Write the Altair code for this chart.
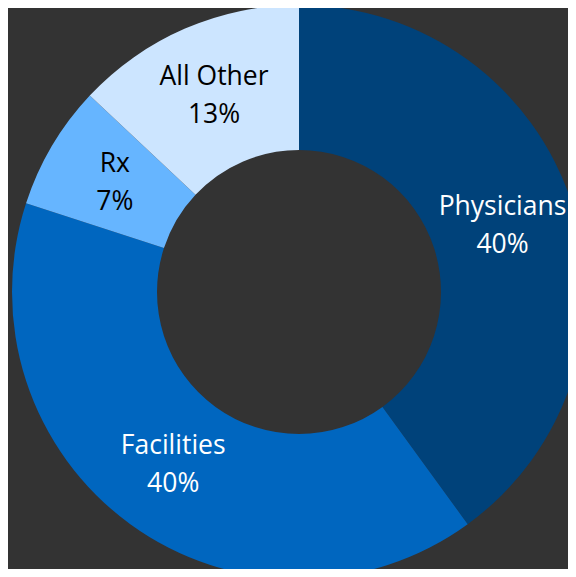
import altair as alt
import pandas as pd

categories = ["Physicians", "Facilities", "Rx", "All Other"]
values = [40, 40, 7, 13]
slice_colors = ["#00427A", "#0066BF", "#66B5FF", "#CCE5FF"]
text_colors = ["#FFFFFF", "#FFFFFF", "#000000", "#000000"]

df = pd.DataFrame({
    "cat": categories,
    "value": values,
    "order": list(range(len(categories))),
    "label": [f"{c}\n{v}%" for c, v in zip(categories, values)],
    "tcolor": text_colors,
})

base = alt.Chart(df).encode(
    theta=alt.Theta("value:Q", stack=True),
    order=alt.Order("order:Q", sort="ascending"),
    x=alt.value(291),
    y=alt.value(284),
)

arc = base.mark_arc(outerRadius=287, innerRadius=142).encode(
    color=alt.Color("cat:N", scale=alt.Scale(domain=categories, range=slice_colors), legend=None)
)

text = base.mark_text(
    radius=214, fontSize=26.5, lineHeight=38, font="Open Sans", lineBreak="\n",
    align="center", baseline="middle", dy=-19,
).encode(
    text="label:N",
    color=alt.Color("tcolor:N", scale=None),
)

chart = (arc + text).properties(
    width=560, height=561, padding=0, autosize=alt.AutoSizeParams(type="none"),
    background="#333333",
).configure_view(stroke=None)

chart.save("out.html", embed_options={"renderer": "svg", "actions": False})
